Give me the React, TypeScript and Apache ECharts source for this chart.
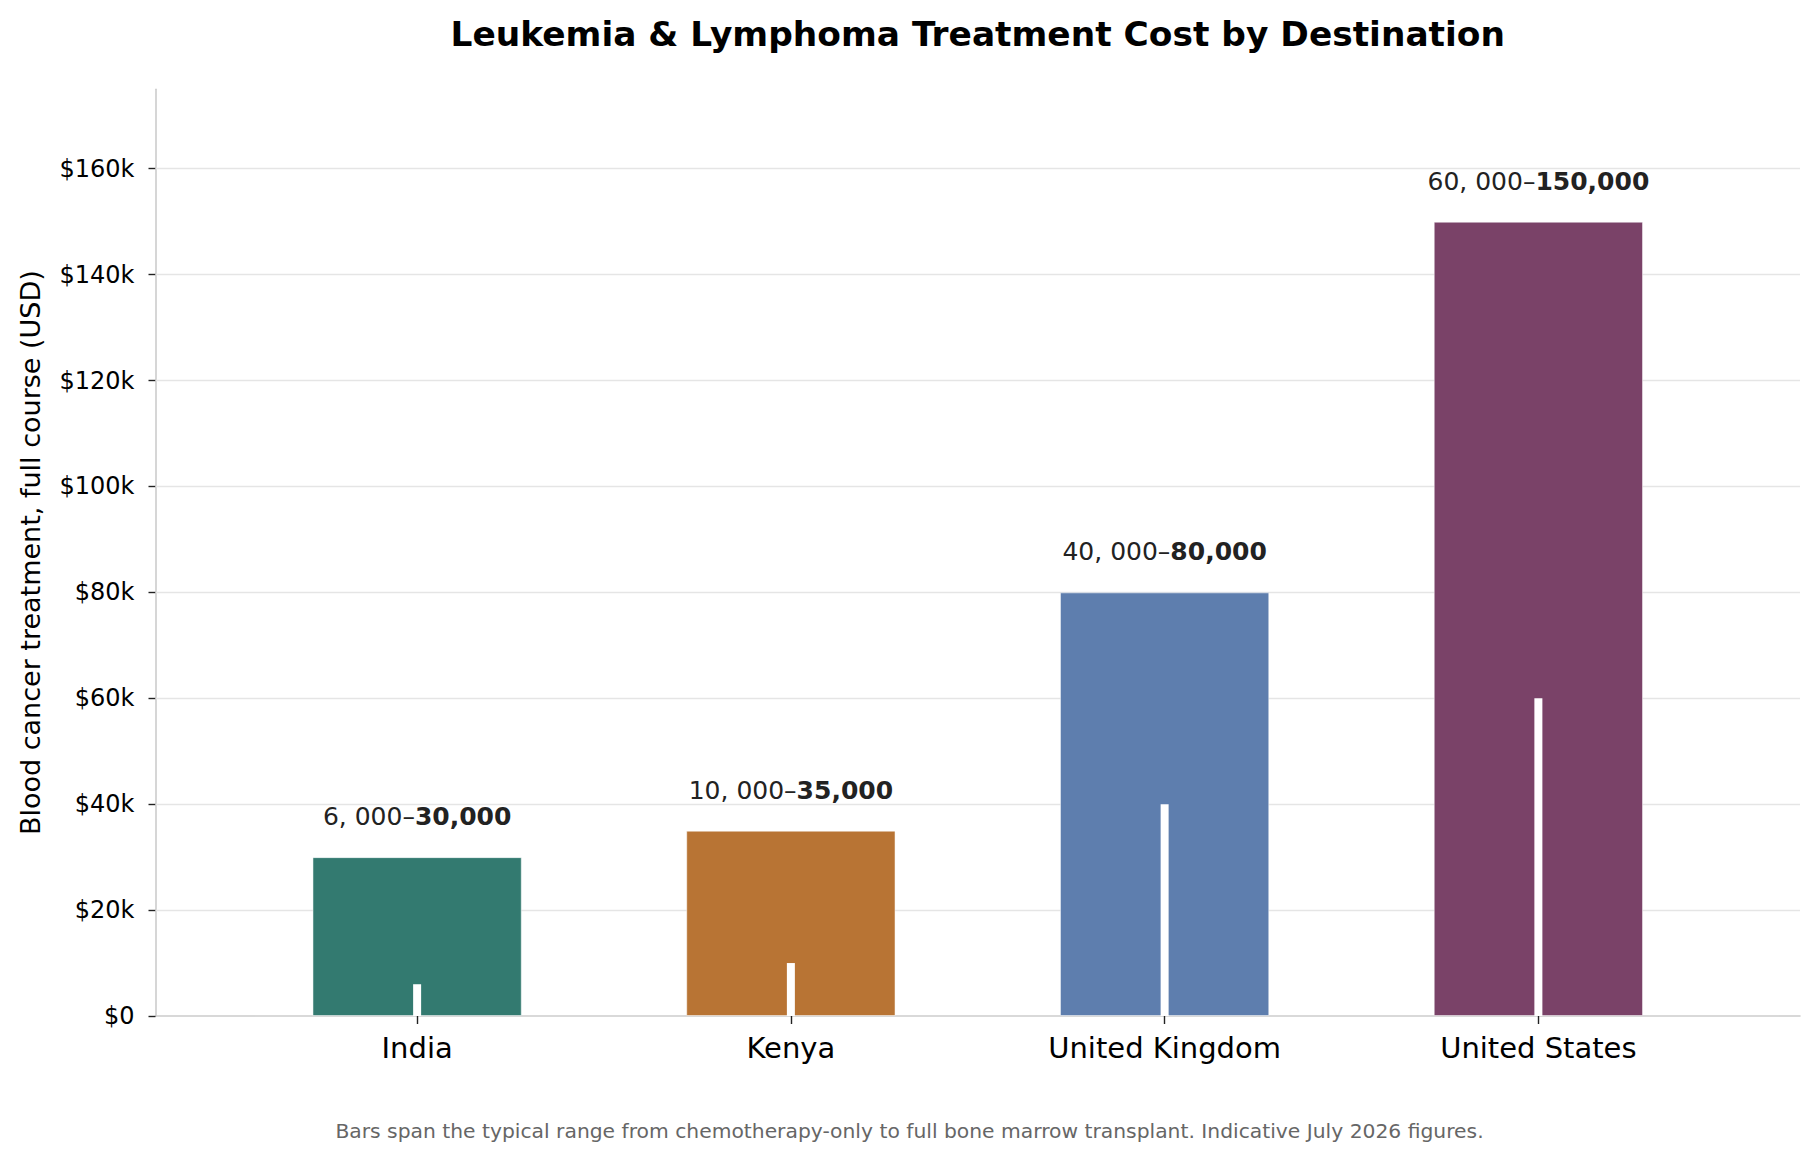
import { useEffect, useRef } from 'react'
import * as echarts from 'echarts'

// ---------- data ----------
const DESTINATIONS = ['India', 'Kenya', 'United Kingdom', 'United States']
const LOW_COST = [6000, 10000, 40000, 60000] // chemotherapy-only
const HIGH_COST = [30000, 35000, 80000, 150000] // full bone marrow transplant
const Y_TICKS = [0, 20000, 40000, 60000, 80000, 100000, 120000, 140000, 160000]

const BAR_COLORS = ['#337a70', '#b87434', '#5e7eae', '#7a4268']

const FONT = 'DejaVu Sans, sans-serif'
const W = 1819
const H = 1162

// plot box (px)
const PLOT_LEFT = 155.5
const PLOT_RIGHT = 1800
const PLOT_TOP = 89.3
const PLOT_BOTTOM = 1016
const X_MIN = -0.7
const X_MAX = 3.7
const Y_MAX = 175000

const fmtLow = (v: number) =>
  `${Math.floor(v / 1000)}, ${String(v % 1000).padStart(3, '0')}–`
const fmtHigh = (v: number) => v.toLocaleString('en-US')

export default function App() {
  const ref = useRef<HTMLDivElement>(null)

  useEffect(() => {
    document.body.style.margin = '0'
    if (!ref.current) return
    const chart = echarts.init(ref.current, undefined, { renderer: 'svg' })

    const plotW = PLOT_RIGHT - PLOT_LEFT
    const plotH = PLOT_BOTTOM - PLOT_TOP
    const unit = plotW / (X_MAX - X_MIN)
    const catLeft = PLOT_LEFT + (-0.5 - X_MIN) * unit

    const option: echarts.EChartsOption = {
      animation: false,
      backgroundColor: '#ffffff',
      textStyle: { fontFamily: FONT },
      grid: [
        { left: PLOT_LEFT, top: PLOT_TOP, width: plotW, height: plotH },
        { left: catLeft, top: PLOT_TOP, width: unit * DESTINATIONS.length, height: plotH },
      ],
      xAxis: [
        {
          gridIndex: 0,
          type: 'value',
          min: X_MIN,
          max: X_MAX,
          axisLine: { show: true, onZero: false, lineStyle: { color: '#cccccc', width: 1.6 } },
          axisTick: { show: false },
          axisLabel: { show: false },
          splitLine: { show: false },
        },
        {
          gridIndex: 1,
          type: 'category',
          data: DESTINATIONS,
          axisLine: { show: false },
          axisTick: {
            show: true,
            alignWithLabel: true,
            length: 8,
            lineStyle: { color: '#222222', width: 1.4 },
          },
          axisLabel: { fontSize: 29, color: '#000000', fontFamily: FONT, margin: 17 },
        },
        { gridIndex: 1, type: 'category', data: DESTINATIONS, show: false },
      ],
      yAxis: [
        {
          gridIndex: 0,
          type: 'value',
          min: 0,
          max: Y_MAX,
          name: 'Blood cancer treatment, full course (USD)',
          nameLocation: 'middle',
          nameGap: 112,
          nameTextStyle: { fontSize: 27, color: '#000000', fontFamily: FONT },
          axisLine: { show: true, onZero: false, lineStyle: { color: '#cccccc', width: 1.6 } },
          axisTick: {
            show: true,
            length: 7,
            lineStyle: { color: '#222222', width: 1.4 },
            customValues: Y_TICKS,
          } as any,
          axisLabel: {
            customValues: Y_TICKS,
            fontSize: 24,
            color: '#000000',
            fontFamily: FONT,
            margin: 21,
            formatter: (v: number) => (v > 160000 ? '' : v === 0 ? '$0' : `$${v / 1000}k`),
          } as any,
          splitLine: { show: false },
        },
        { gridIndex: 1, type: 'value', min: 0, max: Y_MAX, show: false },
      ],
      series: [
        {
          // carrier for the horizontal grid lines across the full plot
          type: 'scatter',
          xAxisIndex: 0,
          yAxisIndex: 0,
          data: [[0, 0]],
          symbolSize: 0,
          silent: true,
          z: 1,
          markLine: {
            silent: true,
            z: 1,
            symbol: ['none', 'none'],
            label: { show: false },
            lineStyle: { color: '#e5e5e5', width: 1.4, type: 'solid' },
            data: Y_TICKS.slice(1).map((v) => ({ yAxis: v })),
          },
        },
        {
          type: 'bar',
          xAxisIndex: 1,
          yAxisIndex: 1,
          barWidth: unit * 0.56,
          z: 10,
          data: HIGH_COST.map((v, i) => ({ value: v, itemStyle: { color: BAR_COLORS[i] } })),
          itemStyle: { borderColor: 'rgba(255,255,255,0.5)', borderWidth: 1 },
          label: {
            show: true,
            position: 'top',
            distance: 28,
            formatter: (p: any) =>
              `{r|${fmtLow(LOW_COST[p.dataIndex])}}{b|${fmtHigh(HIGH_COST[p.dataIndex])}}`,
            rich: {
              r: { fontSize: 25, color: '#222222', fontFamily: FONT, lineHeight: 25 },
              b: { fontSize: 25, color: '#222222', fontFamily: FONT, fontWeight: 'bold', lineHeight: 25 },
            },
          },
        },
        {
          // low end of the range, drawn as a thin white marker
          type: 'bar',
          xAxisIndex: 2,
          yAxisIndex: 1,
          barWidth: 8,
          z: 11,
          silent: true,
          data: LOW_COST,
          itemStyle: { color: '#ffffff' },
        },
      ],
      graphic: [
        {
          type: 'text',
          x: (PLOT_LEFT + PLOT_RIGHT) / 2,
          y: 34,
          style: {
            text: 'Leukemia & Lymphoma Treatment Cost by Destination',
            fontSize: 34.4,
            fontWeight: 'bold',
            fontFamily: FONT,
            fill: '#000000',
            textAlign: 'center',
            textVerticalAlign: 'middle',
          },
        },
        {
          type: 'text',
          x: W / 2,
          y: 1131,
          style: {
            text:
              'Bars span the typical range from chemotherapy-only to full bone marrow transplant. Indicative July 2026 figures.',
            fontSize: 20.3,
            fontFamily: FONT,
            fill: '#666666',
            textAlign: 'center',
            textVerticalAlign: 'middle',
          },
        },
      ],
    }

    chart.setOption(option)
    return () => chart.dispose()
  }, [])

  return <div ref={ref} style={{ width: W, height: H }} />
}
